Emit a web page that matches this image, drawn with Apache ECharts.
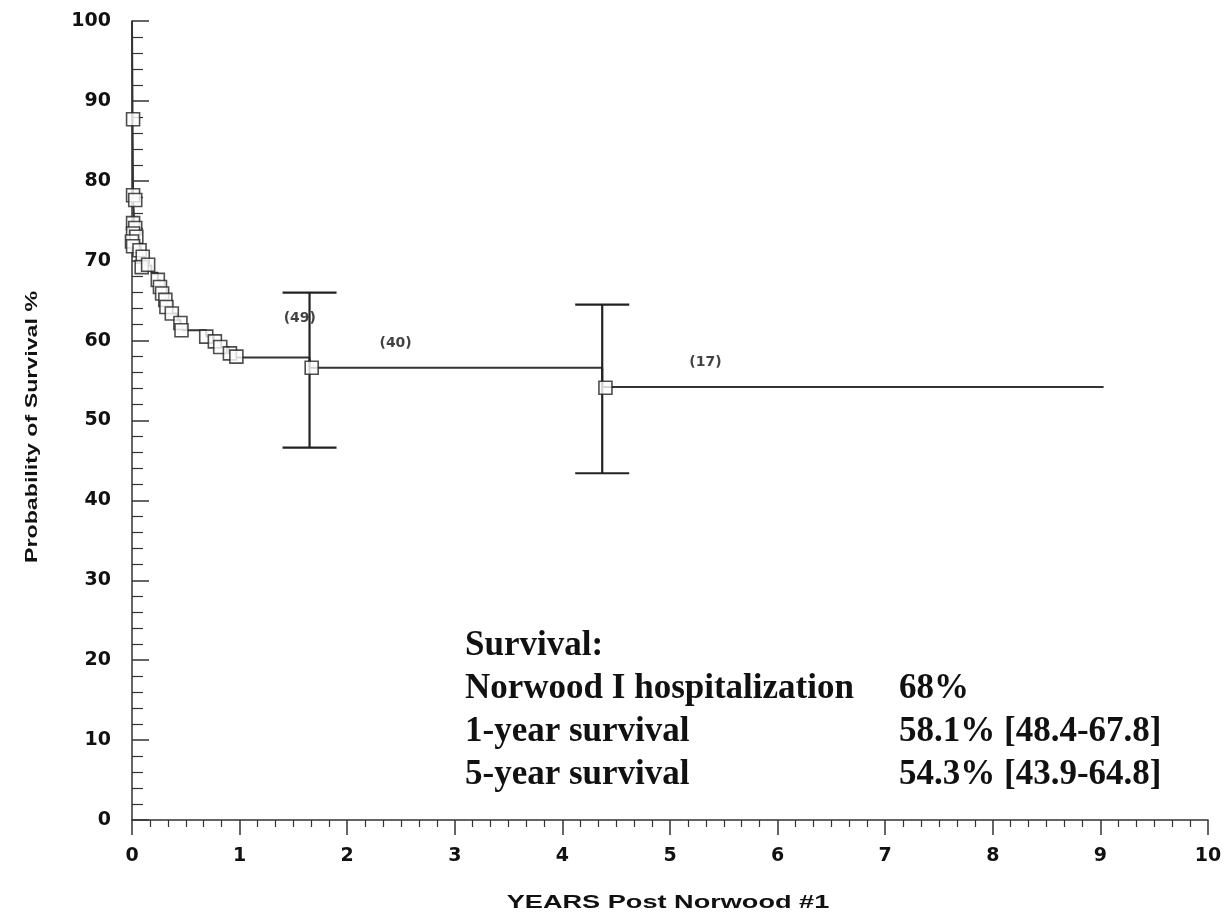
<!DOCTYPE html>
<html>
<head>
<meta charset="utf-8">
<title>Survival after Norwood</title>
<script src="https://cdn.jsdelivr.net/npm/echarts@6.0.0/dist/echarts.min.js"></script>
<style>
  html, body { margin: 0; padding: 0; background: #fff; }
  #chart { width: 1224px; height: 917px; }
</style>
</head>
<body>
<div id="chart"></div>
<script>
// Kaplan-Meier step curve (years, survival %)
const curveT = [0, 0.005, 0.01, 0.02, 0.03, 0.04, 0.05, 0.08, 0.1, 0.12, 0.18, 0.24, 0.26, 0.28, 0.31, 0.33, 0.37, 0.42, 0.45, 0.47, 0.69, 0.76, 0.82, 0.9, 0.96, 1.65, 4.37, 9.03];
const curveV = [100, 87.7, 78.2, 74.7, 73.4, 72.4, 71.8, 71.3, 70.5, 69.4, 68.5, 67.6, 66.7, 65.9, 65.1, 64.2, 63.4, 62.6, 62.0, 61.3, 60.5, 59.9, 59.2, 58.4, 57.9, 56.6, 54.2, 54.2];

// censored observations (squares)
const censT = [0.01, 0.01, 0.03, 0.01, 0.03, 0.01, 0.04, 0, 0.01, 0.07, 0.1, 0.09, 0.15, 0.24, 0.26, 0.28, 0.31, 0.32, 0.37, 0.45, 0.46, 0.69, 0.77, 0.82, 0.91, 0.97, 1.67, 4.4];
const censV = [87.7, 78.2, 77.6, 74.7, 74.1, 73.4, 73.0, 72.4, 71.8, 71.3, 70.5, 69.2, 69.5, 67.6, 66.7, 65.9, 65.1, 64.2, 63.4, 62.2, 61.3, 60.5, 59.9, 59.2, 58.4, 58.0, 56.6, 54.1];

// confidence intervals
const ciT = [1.65, 4.37];
const ciLow = [46.6, 43.4];
const ciHigh = [66.0, 64.5];

// numbers at risk
const riskT = [1.56, 2.45, 5.33];
const riskV = [62.8, 59.7, 57.3];
const riskN = [49, 40, 17];

// summary table
const summaryRows = ['Survival:', 'Norwood I hospitalization', '1-year survival', '5-year survival'];
const summaryValues = ['', '68%', '58.1% [48.4-67.8]', '54.3% [43.9-64.8]'];

const tickFont = { fontFamily: 'DejaVu Sans', fontWeight: 'bold', fontSize: 19, color: '#111' };
const lineColor = '#333';

const chart = echarts.init(document.getElementById('chart'));

const summaryText = [];
summaryRows.forEach(function (txt, i) {
  const y = 646 + i * 43;
  summaryText.push({
    type: 'text', x: 465, y: y,
    style: { text: txt, fontFamily: 'Liberation Serif', fontWeight: 'bold', fontSize: 35, fill: '#111', align: 'left', verticalAlign: 'middle' }
  });
  if (summaryValues[i]) {
    summaryText.push({
      type: 'text', x: 899, y: y,
      style: { text: summaryValues[i], fontFamily: 'Liberation Serif', fontWeight: 'bold', fontSize: 35, fill: '#111', align: 'left', verticalAlign: 'middle' }
    });
  }
});

const option = {
  animation: false,
  backgroundColor: '#fff',
  grid: { left: 132, right: 16, top: 21, bottom: 97, outerBoundsMode: 'none' },
  xAxis: {
    type: 'value', min: 0, max: 10, interval: 1,
    axisLine: { show: true, lineStyle: { color: lineColor, width: 1.5 } },
    axisTick: { show: true, length: 15, lineStyle: { color: lineColor, width: 1.5 } },
    minorTick: { show: true, splitNumber: 6, length: 7, lineStyle: { color: lineColor, width: 1.2 } },
    splitLine: { show: false },
    axisLabel: Object.assign({ margin: 27 }, tickFont)
  },
  yAxis: {
    type: 'value', min: 0, max: 100, interval: 10,
    axisLine: { show: true, lineStyle: { color: lineColor, width: 1.5 } },
    axisTick: { show: true, inside: true, length: 17, lineStyle: { color: lineColor, width: 1.5 } },
    minorTick: { show: true, splitNumber: 5, length: 11, lineStyle: { color: lineColor, width: 1.2 } },
    splitLine: { show: false },
    axisLabel: Object.assign({ margin: 21 }, tickFont)
  },
  graphic: [
    {
      type: 'text', x: 33, y: 427, rotation: Math.PI / 2, scaleX: 1.45,
      style: { text: 'Probability of Survival %', fontFamily: 'Liberation Sans', fontWeight: 'bold', fontSize: 16, fill: '#111', align: 'center', verticalAlign: 'middle' }
    },
    {
      type: 'text', x: 668, y: 903, scaleX: 1.55,
      style: { text: 'YEARS Post Norwood #1', fontFamily: 'Liberation Sans', fontWeight: 'bold', fontSize: 17.5, fill: '#111', align: 'center', verticalAlign: 'middle' }
    }
  ].concat(summaryText),
  series: [
    {
      type: 'line',
      step: 'end',
      showSymbol: false,
      data: curveT.map(function (t, i) { return [t, curveV[i]]; }),
      lineStyle: { color: '#333', width: 2 },
      z: 2
    },
    {
      type: 'custom',
      data: ciT.map(function (t, i) { return [t, ciLow[i], ciHigh[i]]; }),
      encode: { x: 0, y: [1, 2] },
      renderItem: function (params, api) {
        const top = api.coord([api.value(0), api.value(2)]);
        const bot = api.coord([api.value(0), api.value(1)]);
        const half = 27;
        const st = { stroke: '#222', lineWidth: 2.2 };
        return {
          type: 'group',
          children: [
            { type: 'line', shape: { x1: top[0], y1: top[1], x2: bot[0], y2: bot[1] }, style: st },
            { type: 'line', shape: { x1: top[0] - half, y1: top[1], x2: top[0] + half, y2: top[1] }, style: st },
            { type: 'line', shape: { x1: bot[0] - half, y1: bot[1], x2: bot[0] + half, y2: bot[1] }, style: st }
          ]
        };
      },
      z: 3
    },
    {
      type: 'scatter',
      symbol: 'rect',
      symbolSize: 13,
      data: censT.map(function (t, i) { return [t, censV[i]]; }),
      itemStyle: { color: '#fff', borderColor: '#222', borderWidth: 1.6 },
      z: 4
    },
    {
      type: 'scatter',
      symbolSize: 0,
      data: riskT.map(function (t, i) { return [t, riskV[i], riskN[i]]; }),
      label: {
        show: true, position: 'inside',
        formatter: function (p) { return '(' + p.value[2] + ')'; },
        fontFamily: 'DejaVu Sans', fontWeight: 'bold', fontSize: 14, color: '#111'
      },
      z: 5
    }
  ]
};

chart.setOption(option, true);
</script>
</body>
</html>
